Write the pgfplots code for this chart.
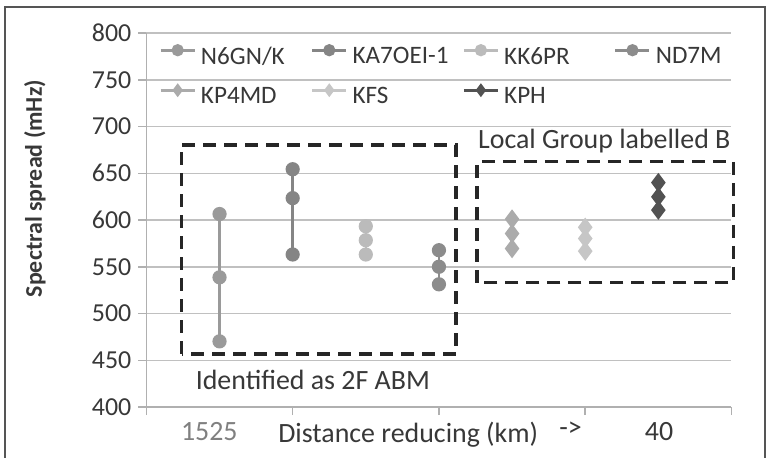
\documentclass[border=0pt]{standalone}
\usepackage{fontspec}
\setmainfont{Carlito}
\usepackage{pgfplots}
\pgfplotsset{compat=1.18}

\definecolor{cN}{HTML}{9A9A9A}
\definecolor{cKA}{HTML}{858585}
\definecolor{cKK}{HTML}{BBBBBB}
\definecolor{cND}{HTML}{8C8C8C}
\definecolor{cKP}{HTML}{ABABAB}
\definecolor{cKF}{HTML}{C6C6C6}
\definecolor{cKPH}{HTML}{525252}
\definecolor{gridc}{HTML}{C0C0C0}
\definecolor{axc}{HTML}{B0B0B0}
\definecolor{txt}{HTML}{383838}
\definecolor{framec}{HTML}{555555}

\begin{document}
\begin{tikzpicture}
\path[use as bounding box] (-73.2bp,-25.5bp) rectangle (312.3bp,203.5bp);
\begin{axis}[
  name=ax, at={(0,0)}, anchor=south west,
  scale only axis, width=292.55bp, height=187bp,
  xmin=0, xmax=8, ymin=400, ymax=800,
  xtick={0,2,4,6,8}, xticklabels={},
  extra x ticks={0.86,3.58,5.80,7.01},
  extra x tick labels={{\color{gray}1525},{Distance reducing (km)},{->},{40}},
  extra x tick style={major tick length=0pt, grid=none,
    xticklabel style={yshift=-4bp}},
  ytick={400,450,...,800},
  /pgf/number format/assume math mode=true,
  ymajorgrids,
  grid style={line width=0.75bp, color=gridc},
  axis x line*=bottom, axis y line*=left,
  axis line style={line width=0.75bp, color=axc, -},
  tick style={line width=0.75bp, color=axc},
  tick align=outside, major tick length=4bp,
  xticklabel style={font=\fontsize{14}{16}\selectfont, text=txt},
  yticklabel style={font=\fontsize{13}{14}\selectfont, text=txt},
  ylabel={Spectral spread (mHz)},
  ylabel style={at={(rel axis cs:0,0.584)}, yshift=55.7bp, anchor=center,
    font=\bfseries\fontsize{12}{14}\selectfont, text=txt},
  clip=false,
  legend columns=4,
  legend style={at={(rel axis cs:0,1)}, anchor=north west, xshift=6.3bp, yshift=-6bp,
    draw=none, fill=none, inner sep=0pt, row sep=9bp,
    font=\fontsize{12.6}{14}\selectfont, text=txt,
    nodes={inner sep=0pt},
    /tikz/every odd column/.append style={column sep=2.5bp}},
  legend image code/.code={
    \draw[mark repeat=2, mark phase=2, #1, mark size=2.4bp] plot coordinates {(0bp,3.5bp) (8.5bp,3.5bp) (17bp,3.5bp)};},
]
\addplot[color=cN, line width=1.3bp, mark=*, mark size=2.9bp, mark options={solid, fill=cN, draw=cN}]
  coordinates {(1,606.4) (1,538.7) (1,470.2)};
\addlegendentry{\makebox[55bp][l]{N6GN/K}}
\addplot[color=cKA, line width=1.3bp, mark=*, mark size=2.9bp, mark options={solid, fill=cKA, draw=cKA}]
  coordinates {(2,654.3) (2,623.4) (2,563.1)};
\addlegendentry{\makebox[55bp][l]{KA7OEI-1}}
\addplot[color=cKK, line width=1.3bp, mark=*, mark size=2.9bp, mark options={solid, fill=cKK, draw=cKK}]
  coordinates {(3,593.3) (3,578.4) (3,563.1)};
\addlegendentry{\makebox[55bp][l]{KK6PR}}
\addplot[color=cND, line width=1.3bp, mark=*, mark size=2.9bp, mark options={solid, fill=cND, draw=cND}]
  coordinates {(4,567.7) (4,550.0) (4,531.2)};
\addlegendentry{\makebox[55bp][l]{ND7M}}
\addplot[color=cKP, line width=1.3bp, mark=diamond*, mark size=3.8bp, mark options={solid, fill=cKP, draw=cKP}]
  coordinates {(5,601.0) (5,585.5) (5,569.5)};
\addlegendentry{\makebox[55bp][l]{KP4MD}}
\addplot[color=cKF, line width=1.3bp, mark=diamond*, mark size=3.8bp, mark options={solid, fill=cKF, draw=cKF}]
  coordinates {(6,592.2) (6,580.2) (6,566.7)};
\addlegendentry{\makebox[55bp][l]{KFS}}
\addplot[color=cKPH, line width=1.3bp, mark=diamond*, mark size=3.8bp, mark options={solid, fill=cKPH, draw=cKPH}]
  coordinates {(7,640.0) (7,624.8) (7,610.6)};
\addlegendentry{\makebox[55bp][l]{KPH}}

% dashed group boxes and their captions
\draw[line width=1.8bp, color=black!85, dash pattern=on 6.5bp off 4bp]
  (axis cs:0.48,456.7) rectangle (axis cs:4.23,680.5);
\draw[line width=1.8bp, color=black!85, dash pattern=on 6.5bp off 4bp]
  (axis cs:4.52,533) rectangle (axis cs:8.03,662.4);
\node[anchor=west, inner sep=0pt, text=txt, font=\fontsize{14}{16}\selectfont]
  at (axis cs:4.53,684.5) {Local Group labelled B};
\node[anchor=west, inner sep=0pt, text=txt, font=\fontsize{14}{16}\selectfont]
  at (axis cs:0.67,429) {Identified as 2F ABM};
\end{axis}
\draw[line width=0.6bp, color=framec]
  (-70.7bp,-30bp) -- (-70.7bp,200bp) -- (309.3bp,200bp) -- (309.3bp,-30bp);
\end{tikzpicture}
\end{document}
